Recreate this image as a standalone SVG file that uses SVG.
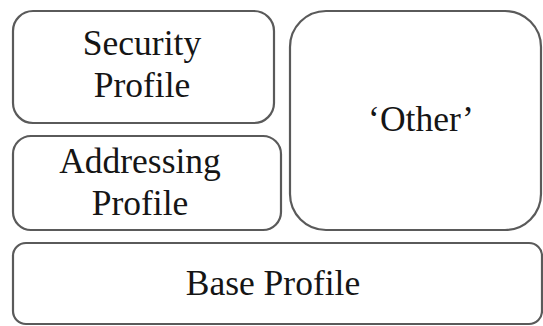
<svg xmlns="http://www.w3.org/2000/svg" width="543" height="326" viewBox="0 0 543 326">
<style>
.box{fill:#fff;stroke:#5a5a5a;stroke-width:2.2}
.t{font-family:'Liberation Serif','Times New Roman',serif;font-size:35.5px;fill:#151515;text-anchor:middle}
</style>
<rect width="543" height="326" fill="#fff"/>
<g id="security"><rect class="box" x="13" y="11" width="261" height="112" rx="20"/><text class="t" x="142" y="55">Security</text><text class="t" x="142" y="97">Profile</text></g>
<g id="addressing"><rect class="box" x="13" y="136" width="268" height="94" rx="18"/><text class="t" x="140" y="173">Addressing</text><text class="t" x="140" y="215">Profile</text></g>
<g id="other"><rect class="box" x="290" y="11" width="251" height="219" rx="36"/><text class="t" x="421" y="131">‘Other’</text></g>
<g id="base"><rect class="box" x="13" y="243" width="529" height="81" rx="13"/><text class="t" x="273" y="295">Base Profile</text></g>
<g id="connectors"/>
</svg>
